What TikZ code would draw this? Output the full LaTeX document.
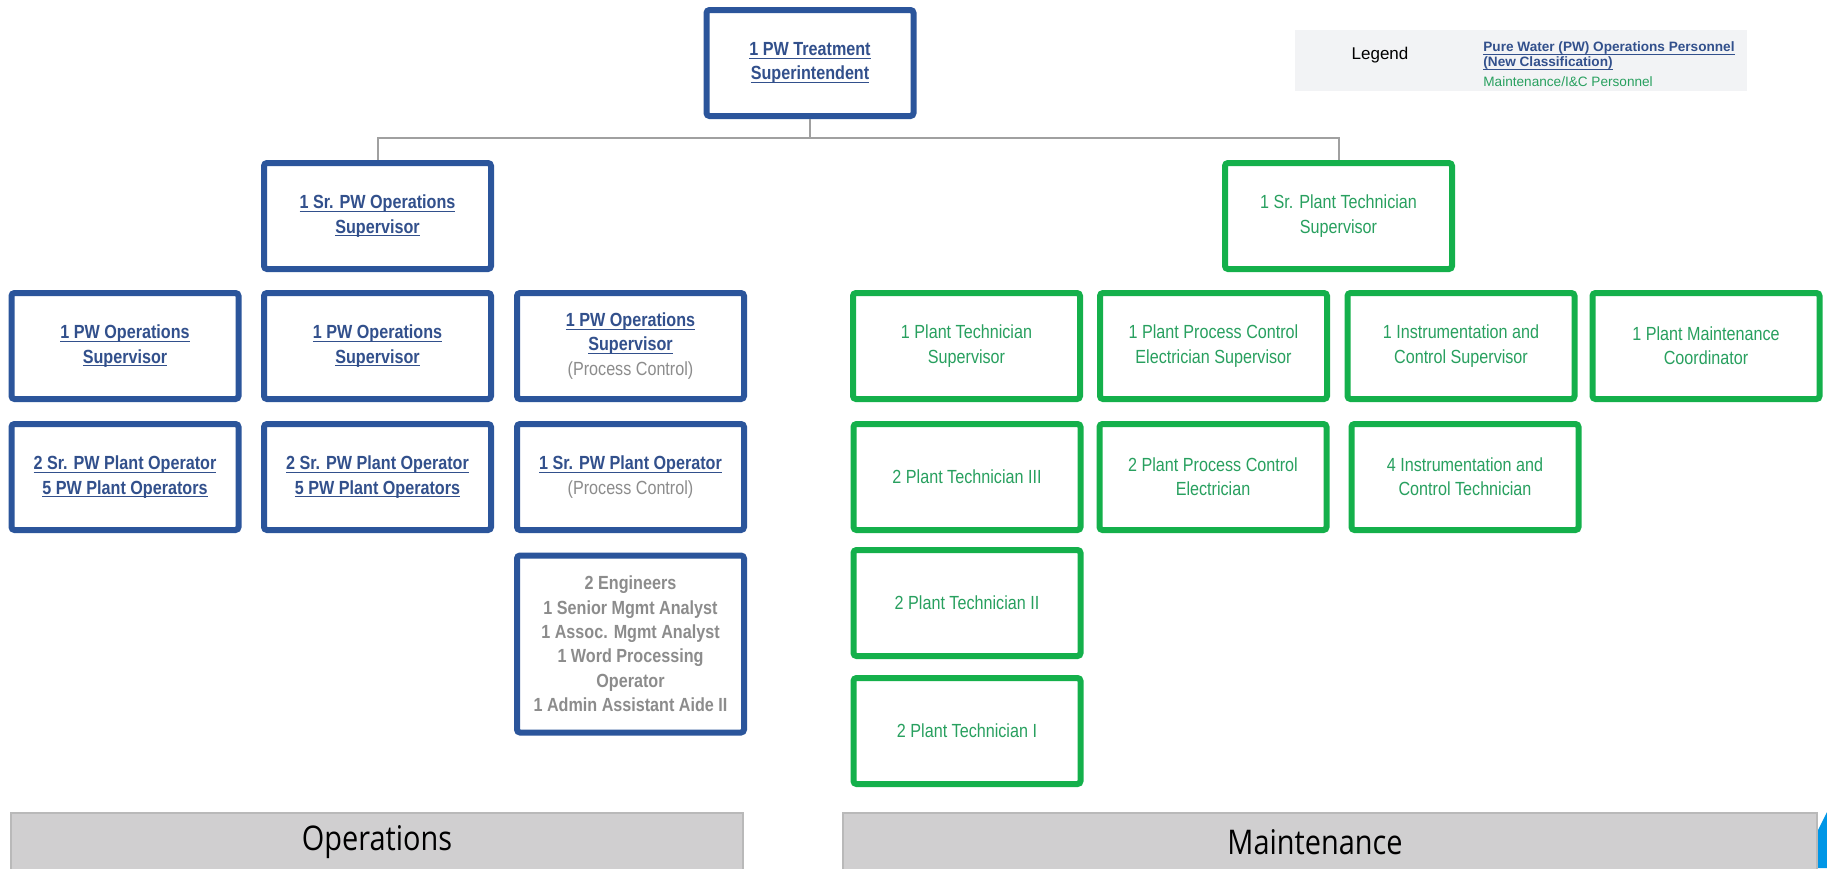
\documentclass[tikz,border=0pt]{standalone}
\usepackage{fontspec}
\setmainfont[FakeStretch=0.85]{Liberation Sans}
\newfontfamily\legfont{Liberation Sans}
\newfontfamily\barfont[FakeStretch=0.85]{Open Sans}
\newcommand\uln[1]{\setbox0\hbox{#1}\rlap{\rule[-1.6pt]{\wd0}{0.45pt}}\box0}
\definecolor{pwblue}{RGB}{43,85,155}
\definecolor{pwtext}{RGB}{50,80,140}
\definecolor{mgreen}{RGB}{20,176,75}
\definecolor{mtext}{RGB}{40,160,95}
\definecolor{gtext}{RGB}{140,140,140}
\definecolor{conngray}{RGB}{160,160,160}
\definecolor{bargray}{RGB}{208,207,208}
\definecolor{bardraw}{RGB}{185,185,185}
\definecolor{legfill}{RGB}{242,243,245}
\definecolor{edgeblue}{RGB}{0,150,230}
\tikzset{
  box/.style={draw, line width=3pt, rounded corners=1.5pt, fill=white, align=center,
    minimum width=113.5pt, minimum height=53pt, inner sep=0pt},
  ops/.style={box, draw=pwblue, text=pwtext, font=\fontsize{9.5}{12.2}\selectfont\bfseries},
  mnt/.style={box, draw=mgreen, text=mtext, font=\fontsize{9.5}{12.2}\selectfont},
  conn/.style={draw=conngray, line width=1pt},
  bar/.style={fill=bargray, draw=bardraw, line width=0.75pt, text=black,
    font=\barfont\fontsize{17}{20}\selectfont, minimum height=29pt}
}
\begin{document}
\begin{tikzpicture}[x=0.5pt, y=-0.5pt]
\useasboundingbox (0,0) rectangle (1827,868);
\fill[legfill] (1295,30) rectangle (1747,91);
\node[font=\legfont\fontsize{8.5}{10}\selectfont] (leg) at (1380,55) {Legend};
\node[anchor=north west, align=left, inner sep=0pt, font=\legfont\fontsize{6.8}{7.8}\selectfont] (legtxt) at (1483,41)
  {\color{pwtext}\textbf{\uln{Pure Water (PW) Operations Personnel}}\\
   \color{pwtext}\textbf{\uln{(New Classification)}}\\[2pt]
   \color{mtext}Maintenance/I\&C Personnel};
\node[ops, minimum width=103.5pt] (s) at (810,63) {\uln{1 PW Treatment}\\\uln{Superintendent}};
\node[ops] (so) at (377.5,216) {\uln{1 Sr. PW Operations}\\\uln{Supervisor}};
\node[mnt] (sm) at (1338.5,216) {1 Sr. Plant Technician\\Supervisor};
\coordinate (b) at (810,138);
\draw[conn] (s.south) -- (b);
\draw[conn] (so.north) |- (b) -| (sm.north);
\node[ops] (o1) at (125,346) {\uln{1 PW Operations}\\\uln{Supervisor}};
\node[ops] (o2) at (377.5,346) {\uln{1 PW Operations}\\\uln{Supervisor}};
\node[ops] (o3) at (630.5,346) {\uln{1 PW Operations}\\\uln{Supervisor}\\{\color{gtext}\mdseries(Process Control)}};
\node[ops] (o4) at (125,477) {\uln{2 Sr. PW Plant Operator}\\\uln{5 PW Plant Operators}};
\node[ops] (o5) at (377.5,477) {\uln{2 Sr. PW Plant Operator}\\\uln{5 PW Plant Operators}};
\node[ops] (o6) at (630.5,477) {\uln{1 Sr. PW Plant Operator}\\{\color{gtext}\mdseries(Process Control)}};
\node[ops, text=gtext, minimum height=88.5pt] (o7) at (630.5,644)
  {2 Engineers\\1 Senior Mgmt Analyst\\1 Assoc. Mgmt Analyst\\1 Word Processing\\Operator\\1 Admin Assistant Aide II};
\node[mnt] (m1) at (966.5,346) {1 Plant Technician\\Supervisor};
\node[mnt] (m2) at (1213.5,346) {1 Plant Process Control\\Electrician Supervisor};
\node[mnt] (m3) at (1461,346) {1 Instrumentation and\\Control Supervisor};
\node[mnt] (m4) at (1706,346) {1 Plant Maintenance\\Coordinator};
\node[mnt] (m5) at (967,477) {2 Plant Technician III};
\node[mnt] (m6) at (1213,477) {2 Plant Process Control\\Electrician};
\node[mnt] (m7) at (1465,477) {4 Instrumentation and\\Control Technician};
\node[mnt] (m8) at (967,603) {2 Plant Technician II};
\node[mnt] (m9) at (967,731) {2 Plant Technician I};
\node[bar, minimum width=366pt] (ob) at (377,842) {Operations};
\node[bar, minimum width=487pt] (mb) at (1330,842) {\hspace*{-15pt}Maintenance};
\fill[edgeblue] (1818,868) -- (1818,830) -- (1827,812) -- (1827,868) -- cycle;
\end{tikzpicture}
\end{document}
